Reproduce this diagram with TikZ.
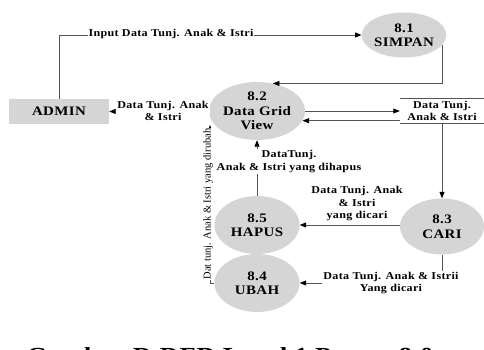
\documentclass[tikz,border=0pt]{standalone}
\usepackage{fontspec}
\setmainfont{Liberation Serif}
\newfontfamily\dfdfont{Liberation Serif}[FakeStretch=1.15,LetterSpace=3]
\usetikzlibrary{arrows.meta,shapes.geometric}
\definecolor{procgray}{HTML}{D5D5D5}
\definecolor{linegray}{HTML}{555555}

\begin{document}
\begin{tikzpicture}[x=1pt,y=-1pt,
  proc/.style={ellipse, fill=procgray, inner sep=0pt, align=center,
    minimum width=84pt, minimum height=58pt,
    font=\dfdfont\bfseries\fontsize{13}{14.5}\selectfont},
  entity/.style={rectangle, fill=procgray, inner sep=0pt,
    minimum width=100pt, minimum height=25pt,
    font=\dfdfont\bfseries\fontsize{13}{14.5}\selectfont},
  store/.style={rectangle, inner sep=0pt, align=center,
    minimum width=84pt, minimum height=24pt,
    font=\dfdfont\bfseries\fontsize{10.5}{12.5}\selectfont},
  flow/.style={draw=linegray, line width=0.8pt,
    -{Triangle[length=6.5pt,width=5pt,color=black]}},
  flowlbl/.style={fill=white, inner sep=1pt, align=center,
    font=\dfdfont\bfseries\fontsize{10.5}{12.5}\selectfont},
  sidelbl/.style={fill=white, inner sep=0.5pt, rotate=90,
    font=\fontsize{10.5}{12}\selectfont},
  caption/.style={anchor=base west,
    font=\dfdfont\bfseries\fontsize{23}{26}\selectfont},
]
\useasboundingbox (0,0) rectangle (484,350);

% processes, external entity and data store
\node[proc, minimum width=78pt, minimum height=45pt] (p1) at (404,35) {8.1\\SIMPAN};
\node[proc] (p2) at (257,111) {8.2\\Data Grid\\View};
\node[proc, minimum height=56pt] (p3) at (442,226.5) {8.3\\CARI};
\node[proc, minimum width=85pt] (p5) at (257,225) {8.5\\HAPUS};
\node[proc, minimum width=85pt] (p4) at (257,283) {8.4\\UBAH};
\node[entity] (adm) at (59,111.5) {ADMIN};
\node[store] (ds) at (442,111) {Data Tunj.\\Anak \& Istri};
\draw[linegray, line width=0.8pt] (ds.north west) -- (ds.north east)
                                  (ds.south west) -- (ds.south east);

% data flows
\coordinate (ubahin) at (210,125);
\draw[flow] (adm.north) |- (p1.west);
\draw[flow] (p1.-15) |- (p2.60);
\draw[flow] (p2.west) -- (adm.east);
\draw[flow] (p2.east) -- (p2.east -| ds.west);
\draw[flow] (ds.west |- p2.-12) -- (p2.-12);
\draw[flow] (ds.south) -- (p3.north);
\draw[flow] (p3.west |- p5.east) -- (p5.east);
\draw[flow] (p3.south) |- (p4.east);
\draw[flow] (p5.north) -- (p2.south);
\draw[flow] (p4.west) -| (ubahin);

% flow labels
\node[flowlbl] (l1) at (171,34) {Input Data Tunj. Anak \& Istri};
\node[flowlbl] (l2) at (163,111) {Data Tunj. Anak\\\& Istri};
\node[flowlbl, fill=none] (l3) at (357,204) {Data Tunj. Anak\\\& Istri\\yang dicari};
\node[flowlbl] (l4) at (391,283) {Data Tunj. Anak \& Istrii\\Yang dicari};
\node[flowlbl] (l5) at (289,161.5) {DataTunj.\\Anak \& Istri yang dihapus};
\node[sidelbl] (l6) at (208,204) {Dat tunj. Anak \& Istri yang dirubah};

% figure caption
\node[caption] (cap) at (23,363) {Gambar D.DFD Level 1 Proses 8.0};
\end{tikzpicture}
\end{document}
